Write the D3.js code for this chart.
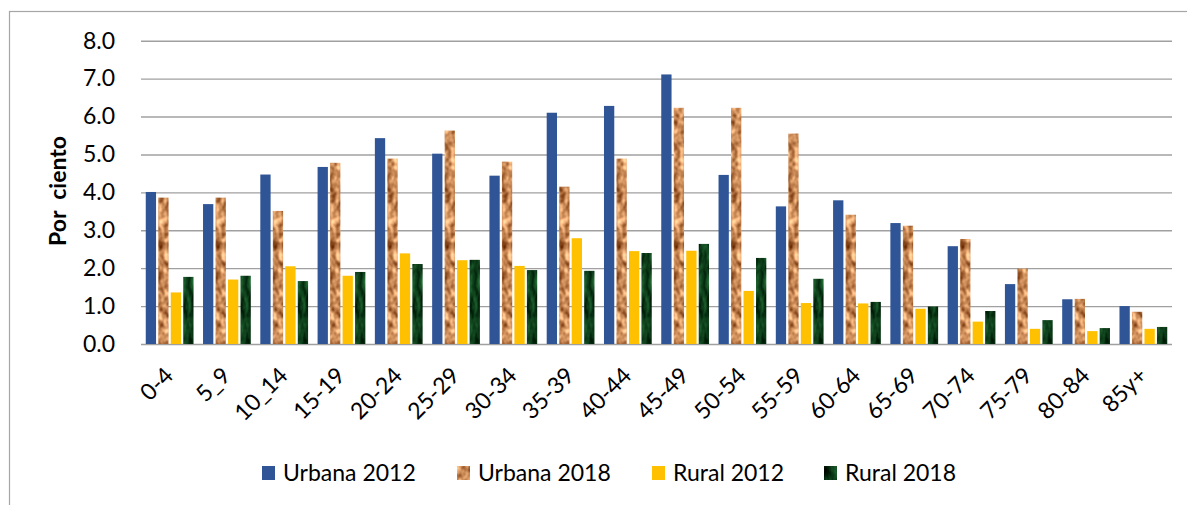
<!DOCTYPE html>
<html>
<head>
<meta charset="utf-8">
<script src="https://cdn.jsdelivr.net/npm/d3@7"></script>
<style>
  body { margin: 0; background: #fff; }
  text { font-family: Lato, "Open Sans", sans-serif; fill: #000; }
</style>
</head>
<body>
<div id="chart"></div>
<script>
// age groups
var categories = ["0-4", "5_9", "10_14", "15-19", "20-24", "25-29", "30-34", "35-39", "40-44",
  "45-49", "50-54", "55-59", "60-64", "65-69", "70-74", "75-79", "80-84", "85y+"];

var seriesNames = ["Urbana 2012", "Urbana 2018", "Rural 2012", "Rural 2018"];

var urbana2012 = [4.01, 3.69, 4.47, 4.67, 5.43, 5.02, 4.44, 6.10, 6.28, 7.11, 4.46, 3.63, 3.79, 3.19, 2.58, 1.58, 1.18, 1.00];
var urbana2018 = [3.86, 3.86, 3.51, 4.78, 4.89, 5.63, 4.81, 4.15, 4.89, 6.23, 6.23, 5.55, 3.41, 3.12, 2.77, 1.99, 1.19, 0.85];
var rural2012  = [1.36, 1.70, 2.05, 1.80, 2.39, 2.21, 2.06, 2.79, 2.45, 2.46, 1.40, 1.08, 1.07, 0.93, 0.59, 0.40, 0.34, 0.40];
var rural2018  = [1.77, 1.80, 1.66, 1.90, 2.11, 2.22, 1.95, 1.93, 2.40, 2.64, 2.27, 1.72, 1.11, 0.99, 0.87, 0.63, 0.42, 0.45];

var yTicks = [0, 1, 2, 3, 4, 5, 6, 7, 8];

var seriesValues = [urbana2012, urbana2018, rural2012, rural2018];

var svgWidth = 1187;
var svgHeight = 505;

var svg = d3.select("#chart")
  .append("svg")
  .attr("width", svgWidth)
  .attr("height", svgHeight);

// textures for the 2018 series
var defs = svg.append("defs");

var cork = defs.append("filter").attr("id", "cork")
  .attr("x", 0).attr("y", 0).attr("width", 1).attr("height", 1)
  .attr("color-interpolation-filters", "sRGB");
cork.append("feTurbulence")
  .attr("type", "fractalNoise").attr("baseFrequency", "0.16 0.12")
  .attr("numOctaves", 2).attr("seed", 4).attr("result", "noise");
cork.append("feColorMatrix").attr("in", "noise").attr("type", "matrix")
  .attr("values", "1.0 0 0 0 0.3  1.0 0 0 0 0.05  0.9 0 0 0 -0.1  0 0 0 0 1")
  .attr("result", "col");
cork.append("feComposite").attr("in", "col").attr("in2", "SourceGraphic").attr("operator", "in");

var moss = defs.append("filter").attr("id", "moss")
  .attr("x", 0).attr("y", 0).attr("width", 1).attr("height", 1)
  .attr("color-interpolation-filters", "sRGB");
moss.append("feTurbulence")
  .attr("type", "fractalNoise").attr("baseFrequency", "0.12 0.05")
  .attr("numOctaves", 3).attr("seed", 9).attr("result", "noise");
moss.append("feColorMatrix").attr("in", "noise").attr("type", "matrix")
  .attr("values", "0.35 0 0 0 -0.12  0.8 0 0 0 -0.15  0.45 0 0 0 -0.12  0 0 0 0 1")
  .attr("result", "col");
moss.append("feComposite").attr("in", "col").attr("in2", "SourceGraphic").attr("operator", "in");

var fills = ["#2F5597", "#C98B55", "#FFC000", "#0E4420"];
var filters = [null, "url(#cork)", null, "url(#moss)"];

// outer chart border (only left/top visible)
svg.append("rect")
  .attr("x", 9.5).attr("y", 11.5)
  .attr("width", 1400).attr("height", 800)
  .attr("fill", "none")
  .attr("stroke", "#A6A6A6")
  .attr("stroke-width", 1.2);

var plotLeft = 141, plotRight = 1172, plotTop = 40.7, plotBottom = 344;

var y = d3.scaleLinear().domain([0, 8]).range([plotBottom, plotTop]);

var x0 = d3.scaleBand()
  .domain(categories)
  .range([plotLeft, plotRight])
  .paddingInner(0.166)
  .paddingOuter(0.083);

var x1 = d3.scaleBand()
  .domain(seriesNames)
  .range([0, x0.bandwidth()])
  .paddingInner(0.176);

// gridlines + y tick labels
var yAxis = d3.axisLeft(y)
  .tickValues(yTicks)
  .tickSize(-(plotRight - plotLeft))
  .tickPadding(26)
  .tickFormat(d3.format(".1f"));

var yG = svg.append("g")
  .attr("transform", `translate(${plotLeft}, 0)`)
  .call(yAxis);
yG.select(".domain").remove();
yG.selectAll(".tick line").attr("stroke", "#A0A0A0").attr("stroke-width", 1.4);
yG.selectAll(".tick text")
  .attr("font-size", "23px")
  .style("font-family", "Lato, sans-serif");

// bars
var groups = svg.append("g").selectAll("g")
  .data(categories)
  .enter()
  .append("g")
  .attr("transform", d => `translate(${x0(d)}, 0)`);

groups.selectAll("rect")
  .data((d, i) => seriesNames.map((s, j) => ({ s: s, j: j, v: seriesValues[j][i] })))
  .enter()
  .append("rect")
  .attr("x", d => x1(d.s))
  .attr("y", d => y(d.v))
  .attr("width", x1.bandwidth())
  .attr("height", d => y(0) - y(d.v))
  .attr("fill", d => fills[d.j])
  .attr("filter", d => filters[d.j]);

// x labels
svg.append("g").selectAll("text")
  .data(categories)
  .enter()
  .append("text")
  .attr("transform", d => `translate(${x0(d) + x0.bandwidth() / 2 + 5}, 377) rotate(-45)`)
  .attr("text-anchor", "end")
  .attr("font-size", "23px")
  .text(d => d);

// y axis title
svg.append("text")
  .attr("transform", "translate(66, 191) rotate(-90)")
  .attr("text-anchor", "middle")
  .attr("font-size", "23px")
  .attr("font-weight", "bold")
  .style("white-space", "pre")
  .text("Por  ciento");

// legend
var legendX = [262, 457, 652, 824];
var legend = svg.append("g").selectAll("g")
  .data(seriesNames)
  .enter()
  .append("g")
  .attr("transform", (d, i) => `translate(${legendX[i]}, 466)`);

legend.append("rect")
  .attr("width", 13).attr("height", 14)
  .attr("fill", (d, i) => fills[i])
  .attr("filter", (d, i) => filters[i]);

legend.append("text")
  .attr("x", 21).attr("y", 7)
  .attr("dy", "0.36em")
  .attr("font-size", "23px")
  .text(d => d);
</script>
</body>
</html>
